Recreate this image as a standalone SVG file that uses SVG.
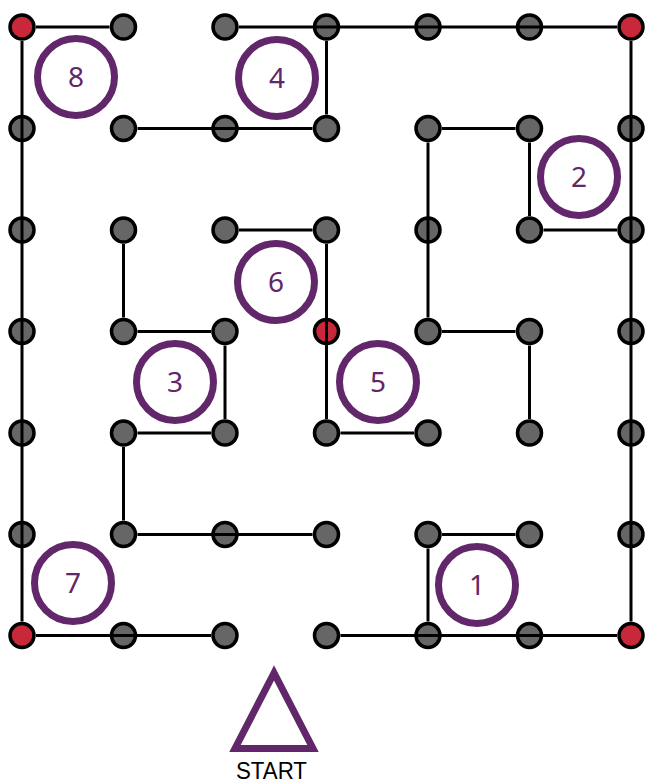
<svg xmlns="http://www.w3.org/2000/svg" width="645" height="784" viewBox="0 0 645 784">
<style>
.dot{fill:#666666;stroke:#000;stroke-width:3.5}
.red{fill:#c8283a;stroke:#000;stroke-width:3.5}
.ln{stroke:#000;stroke-width:3;fill:none;stroke-linecap:butt}
.ring{fill:none;stroke:#62266a;stroke-width:7}
.num{font-family:"Noto Sans","Open Sans",sans-serif;font-size:28px;fill:#62266a;text-anchor:middle}
.lbl{font-family:"Liberation Sans",Arial,sans-serif;font-size:23px;fill:#000;text-anchor:middle}
</style>
<rect width="645" height="784" fill="#fff"/>
<g id="dots">
<circle class="red" cx="22" cy="27" r="12"/><circle class="dot" cx="123.5" cy="27" r="12"/><circle class="dot" cx="225" cy="27" r="12"/><circle class="dot" cx="326.5" cy="27" r="12"/><circle class="dot" cx="428" cy="27" r="12"/><circle class="dot" cx="529.5" cy="27" r="12"/><circle class="red" cx="631" cy="27" r="12"/>
<circle class="dot" cx="22" cy="128.5" r="12"/><circle class="dot" cx="123.5" cy="128.5" r="12"/><circle class="dot" cx="225" cy="128.5" r="12"/><circle class="dot" cx="326.5" cy="128.5" r="12"/><circle class="dot" cx="428" cy="128.5" r="12"/><circle class="dot" cx="529.5" cy="128.5" r="12"/><circle class="dot" cx="631" cy="128.5" r="12"/>
<circle class="dot" cx="22" cy="230" r="12"/><circle class="dot" cx="123.5" cy="230" r="12"/><circle class="dot" cx="225" cy="230" r="12"/><circle class="dot" cx="326.5" cy="230" r="12"/><circle class="dot" cx="428" cy="230" r="12"/><circle class="dot" cx="529.5" cy="230" r="12"/><circle class="dot" cx="631" cy="230" r="12"/>
<circle class="dot" cx="22" cy="331.5" r="12"/><circle class="dot" cx="123.5" cy="331.5" r="12"/><circle class="dot" cx="225" cy="331.5" r="12"/><circle class="red" cx="326.5" cy="331.5" r="12"/><circle class="dot" cx="428" cy="331.5" r="12"/><circle class="dot" cx="529.5" cy="331.5" r="12"/><circle class="dot" cx="631" cy="331.5" r="12"/>
<circle class="dot" cx="22" cy="433" r="12"/><circle class="dot" cx="123.5" cy="433" r="12"/><circle class="dot" cx="225" cy="433" r="12"/><circle class="dot" cx="326.5" cy="433" r="12"/><circle class="dot" cx="428" cy="433" r="12"/><circle class="dot" cx="529.5" cy="433" r="12"/><circle class="dot" cx="631" cy="433" r="12"/>
<circle class="dot" cx="22" cy="534.5" r="12"/><circle class="dot" cx="123.5" cy="534.5" r="12"/><circle class="dot" cx="225" cy="534.5" r="12"/><circle class="dot" cx="326.5" cy="534.5" r="12"/><circle class="dot" cx="428" cy="534.5" r="12"/><circle class="dot" cx="529.5" cy="534.5" r="12"/><circle class="dot" cx="631" cy="534.5" r="12"/>
<circle class="red" cx="22" cy="635.5" r="12"/><circle class="dot" cx="123.5" cy="635.5" r="12"/><circle class="dot" cx="225" cy="635.5" r="12"/><circle class="dot" cx="326.5" cy="635.5" r="12"/><circle class="dot" cx="428" cy="635.5" r="12"/><circle class="dot" cx="529.5" cy="635.5" r="12"/><circle class="red" cx="631" cy="635.5" r="12"/>
</g>
<g id="connectors" class="ln">
<line x1="36" y1="27" x2="109.5" y2="27"/>
<line x1="239" y1="27" x2="617" y2="27"/>
<line x1="326.5" y1="41" x2="326.5" y2="114.5"/>
<line x1="137.5" y1="128.5" x2="312.5" y2="128.5"/>
<line x1="22" y1="41" x2="22" y2="621.5"/>
<line x1="631" y1="41" x2="631" y2="621.5"/>
<line x1="442" y1="128.5" x2="515.5" y2="128.5"/>
<line x1="428" y1="142.5" x2="428" y2="317.5"/>
<line x1="529.5" y1="142.5" x2="529.5" y2="216"/>
<line x1="543.5" y1="230" x2="617" y2="230"/>
<line x1="239" y1="230" x2="312.5" y2="230"/>
<line x1="326.5" y1="244" x2="326.5" y2="419"/>
<line x1="123.5" y1="244" x2="123.5" y2="317.5"/>
<line x1="137.5" y1="331.5" x2="211" y2="331.5"/>
<line x1="225" y1="345.5" x2="225" y2="419"/>
<line x1="137.5" y1="433" x2="211" y2="433"/>
<line x1="123.5" y1="447" x2="123.5" y2="520.5"/>
<line x1="137.5" y1="534.5" x2="312.5" y2="534.5"/>
<line x1="442" y1="331.5" x2="515.5" y2="331.5"/>
<line x1="529.5" y1="345.5" x2="529.5" y2="419"/>
<line x1="340.5" y1="433" x2="414" y2="433"/>
<line x1="36" y1="635.5" x2="211" y2="635.5"/>
<line x1="340.5" y1="635.5" x2="617" y2="635.5"/>
<line x1="442" y1="534.5" x2="515.5" y2="534.5"/>
<line x1="428" y1="548.5" x2="428" y2="621.5"/>
</g>
<g id="room8"><circle class="ring" cx="76" cy="77" r="38.5"/><text class="num" x="76" y="87">8</text></g>
<g id="room4"><circle class="ring" cx="277" cy="78" r="38.5"/><text class="num" x="277" y="88">4</text></g>
<g id="room2"><circle class="ring" cx="579" cy="177" r="38.5"/><text class="num" x="579" y="187">2</text></g>
<g id="room6"><circle class="ring" cx="276" cy="282" r="38.5"/><text class="num" x="276" y="292">6</text></g>
<g id="room3"><circle class="ring" cx="175" cy="382" r="38.5"/><text class="num" x="175" y="392">3</text></g>
<g id="room5"><circle class="ring" cx="378" cy="382" r="38.5"/><text class="num" x="378" y="392">5</text></g>
<g id="room7"><circle class="ring" cx="73" cy="583" r="38.5"/><text class="num" x="73" y="593">7</text></g>
<g id="room1"><circle class="ring" cx="477" cy="585" r="38.5"/><text class="num" x="477" y="595">1</text></g>
<g id="start">
<polygon points="274,673 235,748.5 313,748.5" fill="none" stroke="#62266a" stroke-width="7" stroke-linejoin="miter" stroke-miterlimit="10"/>
<text class="lbl" x="271.5" y="779" textLength="71" lengthAdjust="spacingAndGlyphs">START</text>
</g>
</svg>
